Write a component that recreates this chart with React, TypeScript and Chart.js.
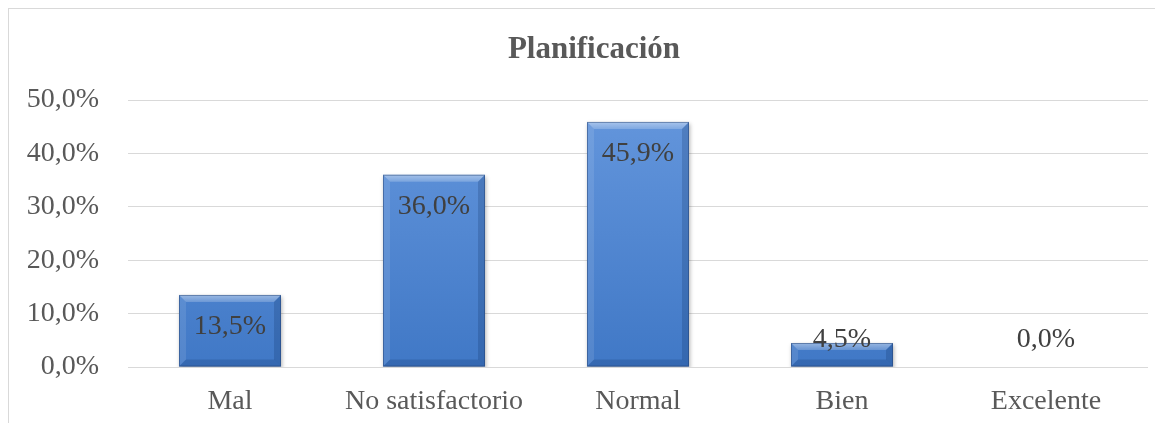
import { useEffect, useRef } from "react";
import { Chart, registerables } from "chart.js";

Chart.register(...registerables);

const chartTitle = "Planificación";
const categories = ["Mal", "No satisfactorio", "Normal", "Bien", "Excelente"];
const percentages = [13.5, 36.0, 45.9, 4.5, 0.0];
const yTickValues = [0, 10, 20, 30, 40, 50];

const serif = "'Liberation Serif', 'Times New Roman', serif";
const textGray = "#595959";
const labelGray = "#404040";
const gridGray = "#d9d9d9";

const fmtPct = (v: number) => v.toFixed(1).replace(".", ",") + "%";

// Chart title, centred on the full chart frame.
const frameTitle = {
  id: "frameTitle",
  afterDraw(chart: any) {
    const ctx = chart.ctx;
    ctx.save();
    ctx.font = `bold 31px ${serif}`;
    ctx.fillStyle = textGray;
    ctx.textAlign = "center";
    ctx.textBaseline = "alphabetic";
    ctx.fillText(chartTitle, chart.width / 2, 49);
    ctx.restore();
  },
};

// Gives each bar an embossed look: soft shadow, lighter top bevel, darker sides.
const bevelBars = {
  id: "bevelBars",
  beforeDatasetsDraw(chart: any) {
    const ctx = chart.ctx;
    ctx.save();
    ctx.shadowColor = "rgba(0,0,0,0.3)";
    ctx.shadowBlur = 4;
    ctx.shadowOffsetX = 1;
    ctx.shadowOffsetY = 2;
  },
  afterDatasetsDraw(chart: any) {
    const ctx = chart.ctx;
    ctx.restore();
    const meta = chart.getDatasetMeta(0);
    const values = chart.data.datasets[0].data as number[];
    meta.data.forEach((bar: any, i: number) => {
      const { x, y, base, width } = bar.getProps(["x", "y", "base", "width"], true);
      const l = x - width / 2;
      const r = x + width / 2;
      const t = y;
      const b = base;
      const h = b - t;
      if (h > 1) {
        const bv = Math.min(7, h / 2);
        ctx.save();
        // top bevel
        const tg = ctx.createLinearGradient(0, t, 0, t + bv);
        tg.addColorStop(0, "rgba(255,255,255,0.45)");
        tg.addColorStop(1, "rgba(255,255,255,0.2)");
        ctx.fillStyle = tg;
        ctx.beginPath();
        ctx.moveTo(l, t);
        ctx.lineTo(r, t);
        ctx.lineTo(r - bv, t + bv);
        ctx.lineTo(l + bv, t + bv);
        ctx.closePath();
        ctx.fill();
        // left bevel
        ctx.fillStyle = "rgba(255,255,255,0.1)";
        ctx.beginPath();
        ctx.moveTo(l, t);
        ctx.lineTo(l + bv, t + bv);
        ctx.lineTo(l + bv, b - bv);
        ctx.lineTo(l, b);
        ctx.closePath();
        ctx.fill();
        // right bevel
        ctx.fillStyle = "rgba(0,25,70,0.18)";
        ctx.beginPath();
        ctx.moveTo(r, t);
        ctx.lineTo(r - bv, t + bv);
        ctx.lineTo(r - bv, b - bv);
        ctx.lineTo(r, b);
        ctx.closePath();
        ctx.fill();
        // bottom bevel
        ctx.fillStyle = "rgba(0,25,70,0.16)";
        ctx.beginPath();
        ctx.moveTo(l, b);
        ctx.lineTo(l + bv, b - bv);
        ctx.lineTo(r - bv, b - bv);
        ctx.lineTo(r, b);
        ctx.closePath();
        ctx.fill();
        // outline
        ctx.strokeStyle = "rgba(35,65,115,0.5)";
        ctx.lineWidth = 1;
        ctx.strokeRect(l + 0.5, t + 0.5, width - 1, h - 1);
        ctx.restore();
      }
      // value label at the inside end of the bar
      ctx.save();
      ctx.font = `28px ${serif}`;
      ctx.fillStyle = labelGray;
      ctx.textAlign = "center";
      ctx.textBaseline = "middle";
      const cy = Math.min(t + 32, b - 27);
      ctx.fillText(fmtPct(values[i]), x, cy);
      ctx.restore();
    });
  },
};

export default function App() {
  const canvasRef = useRef<HTMLCanvasElement | null>(null);

  useEffect(() => {
    if (!canvasRef.current) return;
    const chart = new Chart(canvasRef.current, {
      type: "bar",
      data: {
        labels: categories,
        datasets: [
          {
            data: percentages,
            backgroundColor: (c: any) => {
              const area = c.chart.chartArea;
              if (!area) return "#4a80c8";
              const g = c.chart.ctx.createLinearGradient(0, area.top, 0, area.bottom);
              g.addColorStop(0, "#6597dd");
              g.addColorStop(1, "#4078c6");
              return g;
            },
            borderWidth: 0,
            barPercentage: 0.5,
            categoryPercentage: 1.0,
          },
        ],
      },
      options: {
        animation: false,
        responsive: false,
        maintainAspectRatio: false,
        layout: { padding: { left: 0, right: 31, top: 91, bottom: 0 } },
        plugins: {
          legend: { display: false },
          tooltip: { enabled: false },
          title: { display: false },
        },
        scales: {
          x: {
            grid: { display: false, drawTicks: false },
            border: { display: false },
            ticks: {
              color: textGray,
              font: { family: serif, size: 28 },
              padding: 18,
              maxRotation: 0,
              autoSkip: false,
            },
            afterFit: (s: any) => {
              s.height = 56;
            },
          },
          y: {
            min: 0,
            max: 50,
            afterBuildTicks: (s: any) => {
              s.ticks = yTickValues.map((v) => ({ value: v }));
            },
            grid: { color: gridGray, lineWidth: 1, drawTicks: false },
            border: { display: false },
            ticks: {
              color: textGray,
              font: { family: serif, size: 28 },
              padding: 29,
              callback: (v: any) => fmtPct(Number(v)),
            },
            afterFit: (s: any) => {
              s.width = 119;
            },
          },
        },
      },
      plugins: [bevelBars, frameTitle],
    });
    return () => chart.destroy();
  }, []);

  return (
    <div
      style={{
        width: 1155,
        height: 415,
        borderTop: `1px solid ${gridGray}`,
        borderLeft: `1px solid ${gridGray}`,
        boxSizing: "border-box",
        overflow: "hidden",
      }}
    >
      <canvas ref={canvasRef} width={1170} height={414} style={{ display: "block" }} />
    </div>
  );
}
